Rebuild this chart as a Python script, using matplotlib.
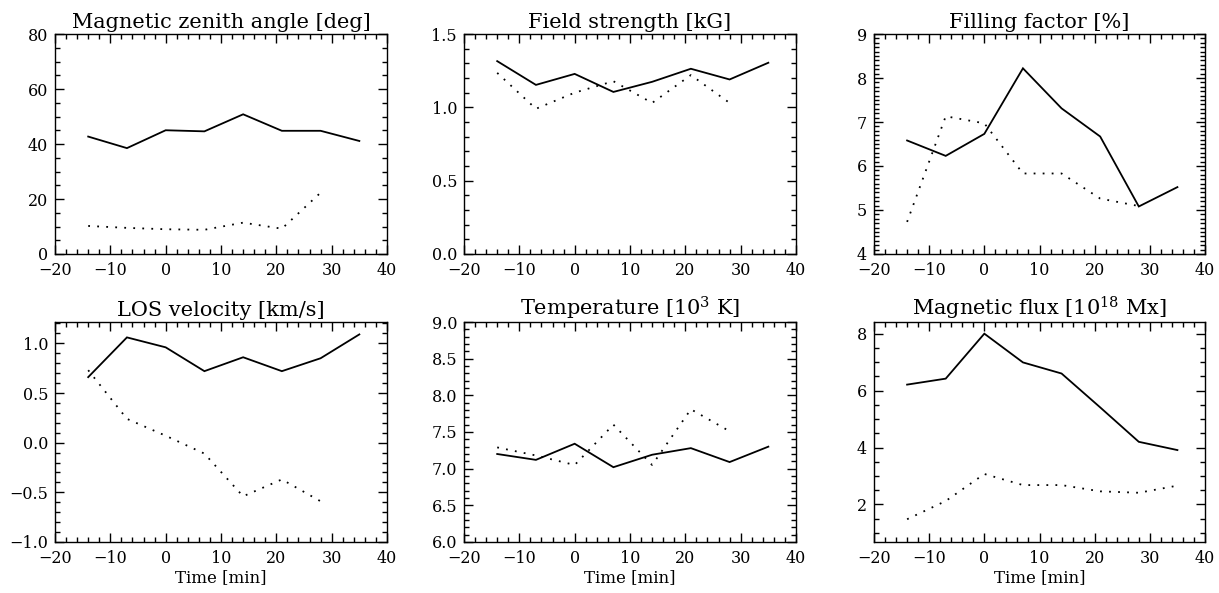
import matplotlib
matplotlib.use("Agg")
import matplotlib.pyplot as plt
from matplotlib.ticker import MultipleLocator, FuncFormatter

plt.rcParams['font.family'] = ['DejaVu Serif']
plt.rcParams['mathtext.fontset'] = 'dejavuserif'
plt.rcParams['axes.unicode_minus'] = True

time_solid = [-14, -7, 0, 7, 14, 21, 28, 35]
time_dot = [-14, -7, 0, 7, 14, 21, 28]
time_dot_flux = [-14, -7, 0, 7, 14, 21, 28, 35]

zenith_solid = [42.7, 38.5, 45.0, 44.6, 50.8, 44.8, 44.8, 41.1]
zenith_dot = [10.2, 9.5, 9.0, 8.8, 11.4, 9.2, 22.3]

field_solid = [1.315, 1.153, 1.228, 1.105, 1.174, 1.263, 1.19, 1.304]
field_dot = [1.235, 0.99, 1.10, 1.178, 1.03, 1.22, 1.03]

fill_solid = [6.58, 6.23, 6.73, 8.22, 7.31, 6.67, 5.08, 5.52]
fill_dot = [4.73, 7.13, 6.97, 5.83, 5.83, 5.26, 5.09]

los_solid = [0.66, 1.06, 0.96, 0.72, 0.86, 0.72, 0.85, 1.09]
los_dot = [0.73, 0.24, 0.07, -0.11, -0.54, -0.37, -0.59]

temp_solid = [7.20, 7.12, 7.34, 7.02, 7.19, 7.28, 7.09, 7.30]
temp_dot = [7.29, 7.18, 7.05, 7.60, 7.05, 7.81, 7.51]

flux_solid = [6.21, 6.42, 8.0, 6.99, 6.6, 5.41, 4.2, 3.91]
flux_dot = [1.48, 2.12, 3.07, 2.68, 2.68, 2.46, 2.41, 2.66]

titles = ["Magnetic zenith angle [deg]", "Field strength [kG]", "Filling factor [%]",
          "LOS velocity [km/s]", "Temperature [$10^3$ K]", "Magnetic flux [$10^{18}$ Mx]"]

panels = [
    (time_solid, zenith_solid, time_dot, zenith_dot, (0, 80), 20, 5, '%d'),
    (time_solid, field_solid, time_dot, field_dot, (0, 1.5), 0.5, 0.1, '%.1f'),
    (time_solid, fill_solid, time_dot, fill_dot, (4, 9), 1, 0.1, '%d'),
    (time_solid, los_solid, time_dot, los_dot, (-1.0, 1.215), 0.5, 0.1, '%.1f'),
    (time_solid, temp_solid, time_dot, temp_dot, (6.0, 9.0), 0.5, 0.1, '%.1f'),
    (time_solid, flux_solid, time_dot_flux, flux_dot, (0.68, 8.41), 2, 0.5, '%d'),
]

W, H = 1219, 593
fig = plt.figure(figsize=(W / 100, H / 100), dpi=100)

lefts = [55, 464, 874]
widths = [332, 332, 331]
tops = [34, 322]
height = 220

def fmt(f):
    def g(v, pos):
        s = f % v
        if s.startswith('-'):
            s = '\u2212' + s[1:]
        return s
    return FuncFormatter(g)

for i, (xs, ys, xd, yd, ylim, ymaj, ymin, yf) in enumerate(panels):
    r, c = divmod(i, 3)
    ax = fig.add_axes([lefts[c] / W, 1 - (tops[r] + height) / H, widths[c] / W, height / H])
    ax.plot(xs, ys, color='black', lw=1.3, solid_joinstyle='miter')
    ax.plot(xd, yd, color='black', lw=1.3, linestyle=(0, (1, 4)))
    ax.set_xlim(-20, 40)
    ax.set_ylim(*ylim)
    ax.xaxis.set_major_locator(MultipleLocator(10))
    ax.xaxis.set_minor_locator(MultipleLocator(2))
    ax.yaxis.set_major_locator(MultipleLocator(ymaj))
    ax.yaxis.set_minor_locator(MultipleLocator(ymin))
    ax.xaxis.set_major_formatter(fmt('%d'))
    ax.yaxis.set_major_formatter(fmt(yf))
    ax.tick_params(which='both', direction='in', top=True, right=True, labelsize=11.5, width=1.0)
    ax.tick_params(axis='y', pad=5)
    ax.tick_params(axis='x', pad=6)
    ax.tick_params(which='major', length=6.5)
    ax.tick_params(which='minor', length=3.5)
    for sp in ax.spines.values():
        sp.set_linewidth(1.0)
    ax.set_title(titles[i], fontsize=15, pad=4)
    if r == 1:
        ax.set_xlabel("Time [min]", fontsize=12, labelpad=1)

fig.savefig("out.png", dpi=100)
